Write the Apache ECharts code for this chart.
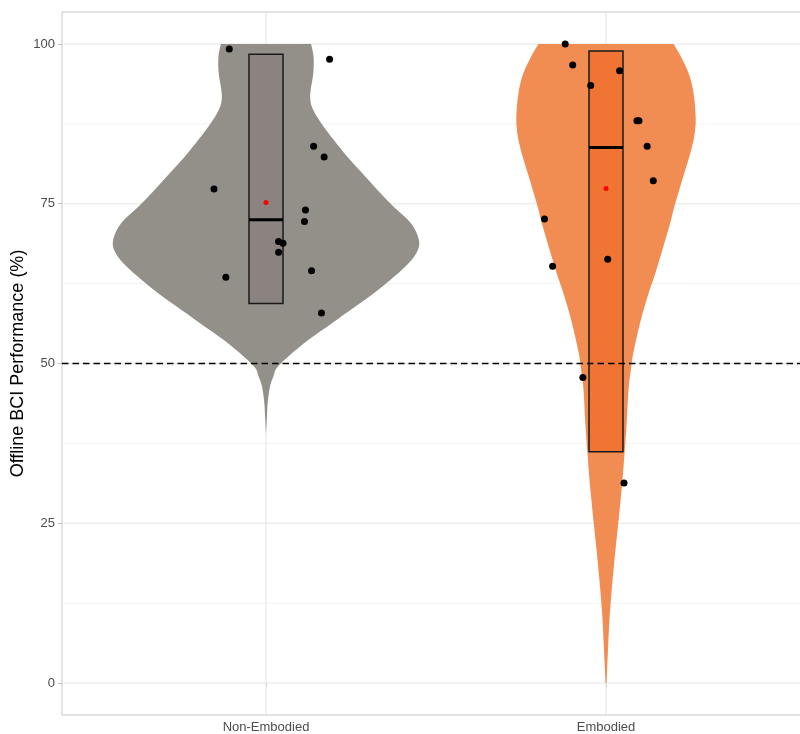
<!DOCTYPE html>
<html>
<head>
<meta charset="utf-8">
<script src="https://cdn.jsdelivr.net/npm/echarts@6/dist/echarts.min.js"></script>
<style>
  html, body { margin: 0; padding: 0; background: #ffffff; }
  #chart { width: 800px; height: 734px; }
</style>
</head>
<body>
<div id="chart"></div>
<script>
// ---- data ----
const groups = ['Non-Embodied', 'Embodied'];
const yTicks = [0, 25, 50, 75, 100];
const yMinorTicks = [12.5, 37.5, 62.5, 87.5];
const chanceLevel = 50;

// per-participant offline performance (%) and horizontal jitter offsets
const nonEmbodiedScores = [99.2, 97.6, 84.0, 82.3, 77.3, 74.0, 72.2, 69.1, 68.8, 67.4, 64.5, 63.5, 57.9];
const nonEmbodiedJitter = [-0.108, 0.187, 0.140, 0.171, -0.153, 0.116, 0.113, 0.037, 0.050, 0.037, 0.134, -0.118, 0.163];
const embodiedScores = [100.0, 96.7, 95.8, 93.5, 88.0, 88.0, 84.0, 78.6, 72.6, 66.3, 65.2, 47.8, 31.3];
const embodiedJitter = [-0.120, -0.098, 0.040, -0.045, 0.091, 0.097, 0.121, 0.139, -0.181, 0.005, -0.157, -0.068, 0.053];

// interval boxes (2.5% - 97.5%), medians and means per group
const boxLow = [59.4, 36.2];
const boxMedian = [72.5, 83.8];
const boxHigh = [98.4, 98.9];
const groupMeans = [75.2, 77.4];

// violin density profiles: level (%) and relative width
const nonEmbodiedLevels = [100, 98.0, 95.4, 92.8, 91.5, 90.2, 88.6, 87.1, 85.0, 82.4, 79.8, 77.2, 74.5, 72.0, 69.3, 67.3, 65.2, 63.1, 61.0, 58.9, 56.3, 53.7, 51.1, 49.3, 48.0, 46.4, 43.8, 41.2, 39.0];
const nonEmbodiedDensity = [0.295, 0.311, 0.309, 0.292, 0.289, 0.299, 0.333, 0.376, 0.442, 0.530, 0.628, 0.727, 0.836, 0.946, 1.000, 0.983, 0.913, 0.814, 0.705, 0.584, 0.431, 0.278, 0.146, 0.070, 0.049, 0.026, 0.011, 0.005, 0.0];
const embodiedLevels = [100, 98.0, 95.4, 92.8, 90.2, 87.6, 85.0, 82.4, 79.8, 77.2, 74.5, 72.0, 69.3, 66.7, 64.1, 61.5, 58.9, 56.3, 53.7, 51.1, 49.3, 45.9, 40.7, 36.5, 31.3, 26.1, 20.9, 15.6, 10.4, 5.2, 2.0, 0];
const embodiedDensity = [0.442, 0.490, 0.540, 0.569, 0.582, 0.586, 0.573, 0.545, 0.512, 0.479, 0.446, 0.420, 0.387, 0.355, 0.322, 0.285, 0.252, 0.222, 0.197, 0.174, 0.164, 0.147, 0.135, 0.123, 0.106, 0.085, 0.062, 0.041, 0.024, 0.013, 0.007, 0.003];

// ---- styling ----
const violinColors = ['rgba(138,135,127,0.92)', 'rgba(239,124,58,0.88)'];
const boxColors = ['#8B837F', '#F07535'];
const VIOLIN_HALF = 0.45;   // half width of the widest violin, in group units
const BOX_HALF = 0.05;
const gridMajor = '#E6E6E6';
const gridMinor = '#F2F2F2';
const borderColor = '#C6C6C6';

const violinLevels = [nonEmbodiedLevels, embodiedLevels];
const violinDensity = [nonEmbodiedDensity, embodiedDensity];
const scoreSets = [nonEmbodiedScores, embodiedScores];
const jitterSets = [nonEmbodiedJitter, embodiedJitter];

const pointData = [];
scoreSets.forEach((scores, g) => {
  scores.forEach((v, i) => pointData.push([g + 1 + jitterSets[g][i], v]));
});
const meanData = groupMeans.map((m, g) => [g + 1, m]);

// background grid lines: [orientation, value, isMajor]
const gridData = [];
yTicks.forEach(v => gridData.push([0, v, 1]));
yMinorTicks.forEach(v => gridData.push([0, v, 0]));
groups.forEach((_, g) => gridData.push([1, g + 1, 1]));

function gridItem(params, api) {
  const cs = params.coordSys;
  const horiz = api.value(0) === 0;
  const v = api.value(1);
  const major = api.value(2) === 1;
  let shape;
  if (horiz) {
    const y = api.coord([1, v])[1];
    shape = { x1: cs.x, y1: y, x2: cs.x + cs.width, y2: y };
  } else {
    const x = api.coord([v, 50])[0];
    shape = { x1: x, y1: cs.y, x2: x, y2: cs.y + cs.height };
  }
  return {
    type: 'line', shape: shape,
    style: { stroke: major ? gridMajor : gridMinor, lineWidth: major ? 1.1 : 0.9 }
  };
}

// each side of the violin is a smoothed curve; the two sides plus the
// flat top edge form one closed path
function smoothSide(pts) {
  // Catmull-Rom style bezier segments through the outline points
  const segs = [];
  for (let i = 0; i < pts.length - 1; i++) {
    const p0 = pts[Math.max(0, i - 1)], p1 = pts[i], p2 = pts[i + 1], p3 = pts[Math.min(pts.length - 1, i + 2)];
    const c1 = [p1[0] + (p2[0] - p0[0]) / 6, p1[1] + (p2[1] - p0[1]) / 6];
    const c2 = [p2[0] - (p3[0] - p1[0]) / 6, p2[1] - (p3[1] - p1[1]) / 6];
    segs.push('C' + c1[0].toFixed(2) + ' ' + c1[1].toFixed(2) + ' ' + c2[0].toFixed(2) + ' ' + c2[1].toFixed(2) + ' ' + p2[0].toFixed(2) + ' ' + p2[1].toFixed(2));
  }
  return segs.join(' ');
}

function violinItem(params, api) {
  const g = params.dataIndex;
  const levels = violinLevels[g], dens = violinDensity[g];
  const cx = g + 1;
  const left = [], right = [];
  for (let i = 0; i < levels.length; i++) {
    const hw = dens[i] * VIOLIN_HALF;
    left.push(api.coord([cx - hw, levels[i]]));
    right.push(api.coord([cx + hw, levels[i]]));
  }
  const rightUp = right.slice().reverse();
  const d = 'M' + left[0][0] + ' ' + left[0][1] + ' ' + smoothSide(left) +
            ' L' + rightUp[0][0] + ' ' + rightUp[0][1] + ' ' + smoothSide(rightUp) + ' Z';
  return {
    type: 'path',
    shape: { pathData: d },
    style: { fill: violinColors[g] }
  };
}

function boxItem(params, api) {
  const g = params.dataIndex;
  const cx = g + 1;
  const tl = api.coord([cx - BOX_HALF, boxHigh[g]]);
  const br = api.coord([cx + BOX_HALF, boxLow[g]]);
  const ml = api.coord([cx - BOX_HALF, boxMedian[g]]);
  const mr = api.coord([cx + BOX_HALF, boxMedian[g]]);
  return {
    type: 'group',
    children: [
      { type: 'rect', shape: { x: tl[0], y: tl[1], width: br[0] - tl[0], height: br[1] - tl[1] },
        style: { fill: boxColors[g], stroke: '#1A1A1A', lineWidth: 1.5 } },
      { type: 'line', shape: { x1: ml[0], y1: ml[1], x2: mr[0], y2: mr[1] },
        style: { stroke: '#000000', lineWidth: 3 } }
    ]
  };
}

function chanceItem(params, api) {
  const cs = params.coordSys;
  const y = api.coord([1, api.value(1)])[1];
  return {
    type: 'line',
    shape: { x1: cs.x, y1: y, x2: cs.x + cs.width, y2: y },
    style: { stroke: '#000000', lineWidth: 1.5, lineDash: [6.5, 4] }
  };
}

const chart = echarts.init(document.getElementById('chart'), null, { renderer: 'canvas' });
chart.setOption({
  animation: false,
  backgroundColor: '#ffffff',
  grid: {
    left: 62, top: 12, width: 748, height: 703,
    show: true, borderColor: borderColor, borderWidth: 1, backgroundColor: 'transparent',
    outerBoundsMode: 'none', containLabel: false
  },
  xAxis: {
    type: 'value', min: 0.4, max: 2.6,
    axisLine: { show: false },
    splitLine: { show: false },
    axisTick: { show: true, length: 4, lineStyle: { color: '#BDBDBD' }, customValues: groups.map((_, g) => g + 1) },
    axisLabel: {
      customValues: groups.map((_, g) => g + 1),
      formatter: v => groups[Math.round(v) - 1] || '',
      color: '#4D4D4D', fontSize: 13, fontFamily: 'Liberation Sans, Arial, sans-serif', margin: 6
    }
  },
  yAxis: {
    type: 'value', min: -5, max: 105,
    name: 'Offline BCI Performance (%)',
    nameLocation: 'middle', nameRotate: 90, nameGap: 35, nameMoveOverlap: false,
    nameTextStyle: { color: '#000000', fontSize: 18, fontFamily: 'Liberation Sans, Arial, sans-serif' },
    axisLine: { show: false },
    splitLine: { show: false },
    axisTick: { show: true, length: 4, lineStyle: { color: '#BDBDBD' }, customValues: yTicks },
    axisLabel: {
      customValues: yTicks,
      color: '#4D4D4D', fontSize: 13, fontFamily: 'Liberation Sans, Arial, sans-serif', margin: 7
    }
  },
  series: [
    { type: 'custom', name: 'grid', renderItem: gridItem, data: gridData, z: 1, silent: true,
      encode: { x: 1, y: 1 } },
    { type: 'custom', name: 'violin', renderItem: violinItem, data: groups.map((_, g) => [g + 1, 50]), z: 2, silent: true },
    { type: 'custom', name: 'box', renderItem: boxItem, data: groups.map((_, g) => [g + 1, boxMedian[g]]), z: 3, silent: true },
    { type: 'custom', name: 'chance', renderItem: chanceItem, data: [[1, chanceLevel]], z: 4, silent: true },
    { type: 'scatter', name: 'participants', data: pointData, symbolSize: 7, z: 5,
      itemStyle: { color: '#000000', opacity: 1 } },
    { type: 'scatter', name: 'mean', data: meanData, symbolSize: 5, z: 6,
      itemStyle: { color: '#FF0000', opacity: 1 } }
  ]
});
</script>
</body>
</html>
